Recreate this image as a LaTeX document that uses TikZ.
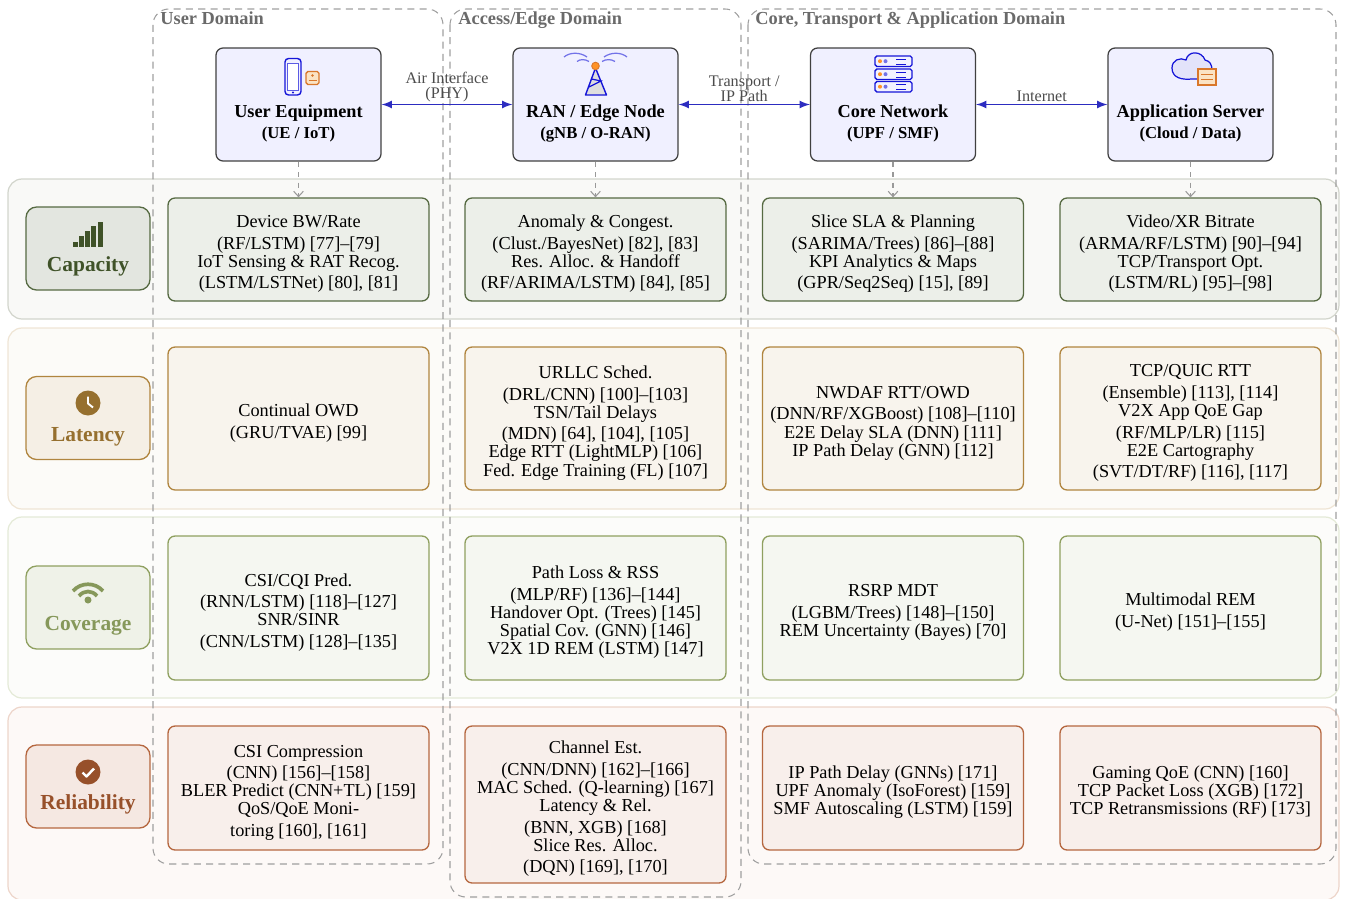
\documentclass[tikz,border=0pt]{standalone}
\usepackage{fontspec}
\usetikzlibrary{arrows.meta}
\setmainfont{Liberation Serif}
\definecolor{capline}{HTML}{566A42}
\definecolor{capink}{HTML}{3F5228}
\definecolor{capfill}{HTML}{ECEFE9}
\definecolor{capside}{HTML}{E3E6E0}
\definecolor{capband}{HTML}{F9F9F7}
\definecolor{capedge}{HTML}{D2D5CC}
\definecolor{latline}{HTML}{B0853F}
\definecolor{latink}{HTML}{96702F}
\definecolor{latfill}{HTML}{F8F4ED}
\definecolor{latside}{HTML}{F5EFE5}
\definecolor{latband}{HTML}{FCFBF8}
\definecolor{latedge}{HTML}{EFE5D5}
\definecolor{covline}{HTML}{8FA060}
\definecolor{covink}{HTML}{86985A}
\definecolor{covfill}{HTML}{F5F7F1}
\definecolor{covside}{HTML}{EFF2E8}
\definecolor{covband}{HTML}{FCFCFA}
\definecolor{covedge}{HTML}{E4EAD7}
\definecolor{relline}{HTML}{B5673F}
\definecolor{relink}{HTML}{97502A}
\definecolor{relfill}{HTML}{F8EFEB}
\definecolor{relside}{HTML}{F5E8E2}
\definecolor{relband}{HTML}{FDF9F7}
\definecolor{reledge}{HTML}{EDD5CA}
\definecolor{nodefill}{HTML}{F0F0FF}
\definecolor{iconblue}{HTML}{1515D8}
\definecolor{linkblue}{HTML}{2C2CC0}
\definecolor{iconorange}{HTML}{D9772B}
\definecolor{iconpeach}{HTML}{FBE3C4}
\definecolor{domainink}{HTML}{6A6A6A}
\tikzset{
  band/.style={rounded corners=8pt,line width=0.7pt},
  domainbox/.style={draw=gray!75,dash pattern=on 4pt off 3pt,rounded corners=9pt,line width=0.6pt},
  domaintitle/.style={anchor=west,inner sep=0pt,text height=7pt,text depth=2pt,text=domainink,font=\fontsize{10.45}{12}\selectfont\bfseries},
  archnode/.style={draw=black!75,fill=nodefill,rounded corners=4pt,line width=0.7pt,minimum width=3.3cm,minimum height=2.26cm,inner sep=0pt,align=center},
  cellbox/.style={rounded corners=4pt,line width=0.75pt,minimum width=5.22cm,inner sep=0pt,align=center,font=\fontsize{10.4}{10.3}\selectfont},
  capcell/.style={cellbox,draw=capline,fill=capfill,minimum height=2.06cm},
  latcell/.style={cellbox,draw=latline,fill=latfill,minimum height=2.86cm},
  covcell/.style={cellbox,draw=covline,fill=covfill,minimum height=2.88cm},
  relcell/.style={cellbox,draw=relline,fill=relfill,minimum height=2.48cm},
  sidebox/.style={rounded corners=6pt,line width=0.75pt,minimum width=2.48cm,minimum height=1.66cm,inner sep=0pt,align=center,font=\fontsize{12.2}{14}\selectfont\bfseries},
  biarrow/.style={<->,>=latex,draw=linkblue,line width=1pt},
  downarrow/.style={->,>={Straight Barb[length=3pt,width=5.5pt]},draw=gray!80,dashed,line width=0.6pt},
  linklabel/.style={midway,above,inner sep=1pt,align=center,text=black!70,font=\fontsize{9.2}{8.6}\selectfont}
}
\newcommand{\archtext}[2]{\rule{0pt}{17.8pt}\\[-1pt]{\fontsize{10.4}{12}\selectfont\bfseries #1}\\[0.4pt]{\fontsize{9.5}{10}\selectfont\bfseries #2}}
\newcommand{\celltop}{\rule{0pt}{12.2pt}}
\begin{document}
\begin{tikzpicture}[x=0.02cm,y=-0.02cm]
\clip (0,0) rectangle (1350,899);

% rows
\draw[band,draw=capedge,fill=capband] (8,179) rectangle (1339,319);
\draw[band,draw=latedge,fill=latband] (8,328) rectangle (1339,509);
\draw[band,draw=covedge,fill=covband] (8,517) rectangle (1339,698);
\draw[band,draw=reledge,fill=relband] (8,707) rectangle (1339,900);

% domains
\draw[domainbox] (153,9) rectangle (443,864);
\draw[domainbox] (450,9) rectangle (741,897);
\draw[domainbox] (748,9) rectangle (1336,864);
\node[domaintitle] (userdom) at (160,20) {User Domain};
\node[domaintitle] (edgedom) at (458,20) {Access/Edge Domain};
\node[domaintitle] (coredom) at (755,20) {Core, Transport \& Application Domain};

% architecture
\node[archnode] (ue) at (298.5,104.5) {\archtext{User Equipment}{(UE / IoT)}};
\node[archnode] (ran) at (595.5,104.5) {\archtext{RAN / Edge Node}{(gNB / O-RAN)}};
\node[archnode] (core) at (893,104.5) {\archtext{Core Network}{(UPF / SMF)}};
\node[archnode] (app) at (1190.5,104.5) {\archtext{Application Server}{(Cloud / Data)}};
\draw[biarrow] (ue) -- node[linklabel] (airlink) {Air Interface\\(PHY)} (ran);
\draw[biarrow] (ran) -- node[linklabel] (iplink) {Transport /\\IP Path} (core);
\draw[biarrow] (core) -- node[linklabel] (netlink) {Internet} (app);

% phone
\draw[draw=iconblue,fill=nodefill,line width=0.8pt,rounded corners=2pt] (285,58.5) rectangle (301,95);
\draw[draw=iconblue!70,fill=white,line width=0.5pt] (287.5,63.5) rectangle (298.5,90);
\fill[iconblue] (293,92.5) circle (1.1);
\draw[draw=iconorange,fill=iconpeach,line width=0.8pt,rounded corners=1pt] (306,71.5) rectangle (319,84.5);
\fill[iconorange] (312.5,75.5) circle (1.3);
\draw[iconorange,line width=0.5pt] (308.5,80) -- (316.5,80);

% tower
\draw[draw=iconblue,fill=gray!25,line width=0.8pt,line join=round] (595.5,68) -- (585.5,95) -- (606.5,95) -- cycle;
\draw[iconblue,line width=0.7pt] (591.5,79) -- (601,81) -- (589,87);
\fill[draw=iconorange,fill=orange!85!white,line width=0.5pt] (595.5,66) circle (3.8);
\draw[iconblue!60,line width=0.7pt] (564,57) .. controls (570,52) and (580,52) .. (587,57);
\draw[iconblue!60,line width=0.7pt] (577,61.5) .. controls (580,59) and (585,59) .. (589,61.5);
\draw[iconblue!60,line width=0.7pt] (604,57) .. controls (611,52) and (621,52) .. (627,57);
\draw[iconblue!60,line width=0.7pt] (602,61.5) .. controls (606,59) and (611,59) .. (615,61.5);

% server
\foreach \y in {56,69,81.5}{
\draw[draw=iconblue,fill=nodefill!70!blue!15,line width=0.8pt,rounded corners=1pt] (875,\y) rectangle (912,\y+10.5);
\fill[orange!85!white] (880,\y+5.2) circle (2);
\fill[iconblue!60] (885.5,\y+5.2) circle (2);
\draw[iconblue,line width=0.4pt] (896,\y+3) -- (906,\y+3);
\draw[iconblue,line width=0.4pt] (896,\y+8) -- (906,\y+8);
}

% cloud
\draw[draw=iconblue,fill=iconblue!12,line width=0.7pt] (1192,79) .. controls (1182,80) and (1172,78) .. (1172,68) .. controls (1172,60) and (1180,57) .. (1186,60) .. controls (1188,50) and (1202,51) .. (1205,60) .. controls (1210,61) and (1212,65) .. (1212,70) -- (1202,79) -- cycle;
\draw[draw=iconorange,fill=iconpeach,line width=0.9pt] (1198,69) rectangle (1216,85);
\draw[iconorange,line width=0.5pt] (1201,74) -- (1213,74);
\draw[iconorange,line width=0.5pt] (1201,79.5) -- (1213,79.5);

% side labels
\node[sidebox,draw=capline,fill=capside,text=capink] (capacity) at (88,248.5) {\rule{0pt}{15pt}\\Capacity};
\node[sidebox,draw=latline,fill=latside,text=latink] (latency) at (88,418) {\rule{0pt}{15pt}\\Latency};
\node[sidebox,draw=covline,fill=covside,text=covink] (coverage) at (88,607.5) {\rule{0pt}{15pt}\\Coverage};
\node[sidebox,draw=relline,fill=relside,text=relink] (reliability) at (88,786.5) {\rule{0pt}{15pt}\\Reliability};

% bars
\foreach \x/\t in {73/241.5,79/236,85/231,91/226,98/222}{
\fill[capink] (\x,\t) rectangle (\x+4.5,247);
}
% clock
\fill[latink] (88,403) circle (12.5);
\draw[white,line width=1.1pt,line join=round] (88,396.5) -- (88,403.5) -- (93,407.5);
% wifi
\fill[covink] (88,600) circle (3.5);
\draw[covink,line width=2.1pt] (73,591) .. controls (81,582) and (95,582) .. (103,591);
\draw[covink,line width=2.1pt] (79,596) .. controls (84,590) and (92,590) .. (97,596);
% check
\fill[relink] (88,772) circle (12.5);
\draw[white,line width=1.4pt,line join=round] (82.5,772.5) -- (86.5,776.5) -- (94,768.5);

% capacity cells
\node[capcell] (capue) at (298.5,249.5) {\celltop Device BW/Rate\\[2pt](RF/LSTM) [77]--[79]\\IoT Sensing \& RAT Recog.\\[2pt](LSTM/LSTNet) [80], [81]};
\node[capcell] (capran) at (595.5,249.5) {\celltop Anomaly \& Congest.\\[2pt](Clust./BayesNet) [82], [83]\\Res. Alloc. \& Handoff\\[2pt](RF/ARIMA/LSTM) [84], [85]};
\node[capcell] (capcore) at (893,249.5) {\celltop Slice SLA \& Planning\\[2pt](SARIMA/Trees) [86]--[88]\\KPI Analytics \& Maps\\[2pt](GPR/Seq2Seq) [15], [89]};
\node[capcell] (capapp) at (1190.5,249.5) {\celltop Video/XR Bitrate\\[2pt](ARMA/RF/LSTM) [90]--[94]\\TCP/Transport Opt.\\[2pt](LSTM/RL) [95]--[98]};
\draw[downarrow] (ue) -- (capue);
\draw[downarrow] (ran) -- (capran);
\draw[downarrow] (core) -- (capcore);
\draw[downarrow] (app) -- (capapp);

% latency cells
\node[latcell] (latue) at (298.5,418.5) {\celltop Continual OWD\\[2pt](GRU/TVAE) [99]};
\node[latcell] (latran) at (595.5,418.5) {\celltop URLLC Sched.\\[2pt](DRL/CNN) [100]--[103]\\TSN/Tail Delays\\[2pt](MDN) [64], [104], [105]\\Edge RTT (LightMLP) [106]\\Fed. Edge Training (FL) [107]};
\node[latcell] (latcore) at (893,418.5) {\celltop NWDAF RTT/OWD\\[2pt](DNN/RF/XGBoost) [108]--[110]\\E2E Delay SLA (DNN) [111]\\IP Path Delay (GNN) [112]};
\node[latcell] (latapp) at (1190.5,418.5) {\celltop TCP/QUIC RTT\\[2pt](Ensemble) [113], [114]\\V2X App QoE Gap\\[2pt](RF/MLP/LR) [115]\\E2E Cartography\\[2pt](SVT/DT/RF) [116], [117]};

% coverage cells
\node[covcell] (covue) at (298.5,608) {\celltop CSI/CQI Pred.\\[2pt](RNN/LSTM) [118]--[127]\\SNR/SINR\\[2pt](CNN/LSTM) [128]--[135]};
\node[covcell] (covran) at (595.5,608) {\celltop Path Loss \& RSS\\[2pt](MLP/RF) [136]--[144]\\Handover Opt. (Trees) [145]\\Spatial Cov. (GNN) [146]\\V2X 1D REM (LSTM) [147]};
\node[covcell] (covcore) at (893,608) {\celltop RSRP MDT\\[2pt](LGBM/Trees) [148]--[150]\\REM Uncertainty (Bayes) [70]};
\node[covcell] (covapp) at (1190.5,608) {\celltop Multimodal REM\\[2pt](U-Net) [151]--[155]};

% reliability cells
\node[relcell] (relue) at (298.5,788) {\celltop CSI Compression\\[2pt](CNN) [156]--[158]\\BLER Predict (CNN+TL) [159]\\QoS/QoE Moni-\\[2pt]toring [160], [161]};
\node[relcell,minimum height=3.14cm] (relran) at (595.5,804.5) {\celltop Channel Est.\\[2pt](CNN/DNN) [162]--[166]\\MAC Sched. (Q-learning) [167]\\Latency \& Rel.\\[2pt](BNN, XGB) [168]\\Slice Res. Alloc.\\[2pt](DQN) [169], [170]};
\node[relcell] (relcore) at (893,788) {\celltop IP Path Delay (GNNs) [171]\\UPF Anomaly (IsoForest) [159]\\SMF Autoscaling (LSTM) [159]};
\node[relcell] (relapp) at (1190.5,788) {\celltop Gaming QoE (CNN) [160]\\TCP Packet Loss (XGB) [172]\\TCP Retransmissions (RF) [173]};
\end{tikzpicture}
\end{document}
